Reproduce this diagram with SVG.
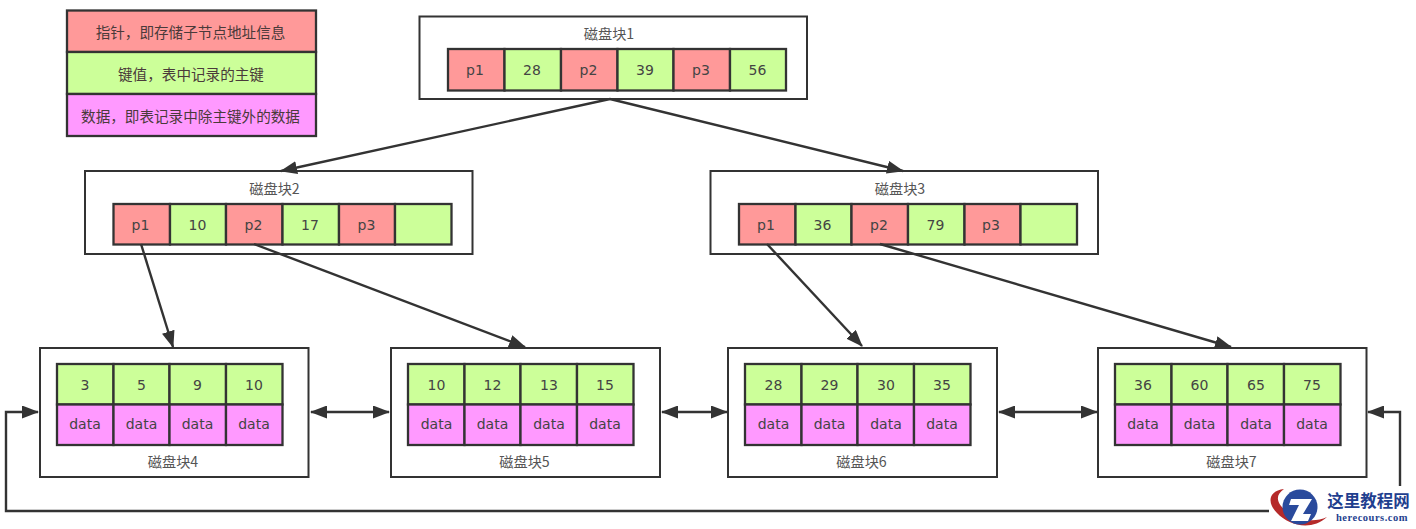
<svg xmlns="http://www.w3.org/2000/svg" width="1416" height="529" viewBox="0 0 1416 529">
<style>
text{font-family:"Noto Sans CJK SC","DejaVu Sans",sans-serif;text-anchor:middle;dominant-baseline:central}
.blk{fill:#fff;stroke:#333;stroke-width:2}
.r{fill:#ff9999;stroke:#333;stroke-width:2.300}
.g{fill:#ccff99;stroke:#333;stroke-width:2.300}
.m{fill:#ff99ff;stroke:#333;stroke-width:2.300}
.t{font-size:14px;fill:#444;font-family:"DejaVu Sans","Noto Sans CJK SC",sans-serif}
.l{font-size:14.200px;fill:#555}
.k{font-size:14.600px;fill:#4a3a3a}
.c{fill:none;stroke:#333;stroke-width:2.400}
</style>
<defs>
<marker id="a" viewBox="0 0 17 13" refX="16" refY="6.500" markerWidth="17" markerHeight="13" markerUnits="userSpaceOnUse" orient="auto-start-reverse"><path d="M0 0L17 6.500L0 13z" fill="#333"/></marker>
</defs>
<g id="legend">
<rect class="r" x="67" y="10.500" width="249" height="41.500"/><text class="k" x="190.500" y="31.500">指针，即存储子节点地址信息</text>
<rect class="g" x="67" y="52" width="249" height="42"/><text class="k" x="191" y="73.500">键值，表中记录的主键</text>
<rect class="m" x="67" y="94" width="249" height="42"/><text class="k" x="190.500" y="115">数据，即表记录中除主键外的数据</text>
</g>
<g id="block1">
<rect class="blk" x="419.500" y="16.500" width="387.500" height="82.500"/><text class="l" x="609" y="32.500">磁盘块1</text>
<rect class="r" x="448" y="49" width="56.500" height="41.500"/><text class="t" x="475" y="70">p1</text>
<rect class="g" x="504.500" y="49" width="56.500" height="41.500"/><text class="t" x="532" y="70">28</text>
<rect class="r" x="561" y="49" width="56.500" height="41.500"/><text class="t" x="588.500" y="70">p2</text>
<rect class="g" x="617.500" y="49" width="56" height="41.500"/><text class="t" x="645" y="70">39</text>
<rect class="r" x="673.500" y="49" width="56.500" height="41.500"/><text class="t" x="701" y="70">p3</text>
<rect class="g" x="730" y="49" width="56" height="41.500"/><text class="t" x="757.500" y="70">56</text>
</g>
<g id="block2">
<rect class="blk" x="85" y="171" width="387.500" height="83"/><text class="l" x="274.500" y="187.500">磁盘块2</text>
<rect class="r" x="113.500" y="204" width="56.500" height="40.500"/><text class="t" x="140.500" y="225">p1</text>
<rect class="g" x="170" y="204" width="56" height="40.500"/><text class="t" x="197.500" y="225">10</text>
<rect class="r" x="226" y="204" width="56.500" height="40.500"/><text class="t" x="253.500" y="225">p2</text>
<rect class="g" x="282.500" y="204" width="56.500" height="40.500"/><text class="t" x="310" y="225">17</text>
<rect class="r" x="339" y="204" width="56" height="40.500"/><text class="t" x="366.500" y="225">p3</text>
<rect class="g" x="395" y="204" width="56.500" height="40.500"/>
</g>
<g id="block3">
<rect class="blk" x="710.500" y="171" width="387.500" height="83"/><text class="l" x="900" y="187.500">磁盘块3</text>
<rect class="r" x="739" y="204" width="56.500" height="40.500"/><text class="t" x="766" y="225">p1</text>
<rect class="g" x="795.500" y="204" width="56" height="40.500"/><text class="t" x="822.500" y="225">36</text>
<rect class="r" x="851.500" y="204" width="56.500" height="40.500"/><text class="t" x="879" y="225">p2</text>
<rect class="g" x="908" y="204" width="56.500" height="40.500"/><text class="t" x="935.500" y="225">79</text>
<rect class="r" x="964.500" y="204" width="56" height="40.500"/><text class="t" x="991" y="225">p3</text>
<rect class="g" x="1020.500" y="204" width="56.500" height="40.500"/>
</g>
<g id="block4">
<rect class="blk" x="40" y="348" width="268.500" height="129"/>
<rect class="g" x="57" y="364" width="56.500" height="40.500"/><text class="t" x="85" y="384.500">3</text>
<rect class="g" x="113.500" y="364" width="56" height="40.500"/><text class="t" x="141.500" y="384.500">5</text>
<rect class="g" x="169.500" y="364" width="56.500" height="40.500"/><text class="t" x="197.500" y="384.500">9</text>
<rect class="g" x="226" y="364" width="56.500" height="40.500"/><text class="t" x="254" y="384.500">10</text>
<rect class="m" x="57" y="404.500" width="56.500" height="40.500"/><text class="t" x="85" y="424">data</text>
<rect class="m" x="113.500" y="404.500" width="56" height="40.500"/><text class="t" x="141.500" y="424">data</text>
<rect class="m" x="169.500" y="404.500" width="56.500" height="40.500"/><text class="t" x="197.500" y="424">data</text>
<rect class="m" x="226" y="404.500" width="56.500" height="40.500"/><text class="t" x="254" y="424">data</text>
<text class="l" x="173" y="460.500">磁盘块4</text>
</g>
<g id="block5">
<rect class="blk" x="391" y="348" width="269" height="129"/>
<rect class="g" x="408" y="364" width="56.500" height="40.500"/><text class="t" x="436.500" y="384.500">10</text>
<rect class="g" x="464.500" y="364" width="56" height="40.500"/><text class="t" x="492.500" y="384.500">12</text>
<rect class="g" x="520.500" y="364" width="56.500" height="40.500"/><text class="t" x="549" y="384.500">13</text>
<rect class="g" x="577" y="364" width="56.500" height="40.500"/><text class="t" x="605" y="384.500">15</text>
<rect class="m" x="408" y="404.500" width="56.500" height="40.500"/><text class="t" x="436.500" y="424">data</text>
<rect class="m" x="464.500" y="404.500" width="56" height="40.500"/><text class="t" x="492.500" y="424">data</text>
<rect class="m" x="520.500" y="404.500" width="56.500" height="40.500"/><text class="t" x="549" y="424">data</text>
<rect class="m" x="577" y="404.500" width="56.500" height="40.500"/><text class="t" x="605" y="424">data</text>
<text class="l" x="524.500" y="460.500">磁盘块5</text>
</g>
<g id="block6">
<rect class="blk" x="728" y="348" width="269" height="129"/>
<rect class="g" x="745" y="364" width="56.500" height="40.500"/><text class="t" x="773.500" y="384.500">28</text>
<rect class="g" x="801.500" y="364" width="56" height="40.500"/><text class="t" x="829.500" y="384.500">29</text>
<rect class="g" x="857.500" y="364" width="56.500" height="40.500"/><text class="t" x="886" y="384.500">30</text>
<rect class="g" x="914" y="364" width="56.500" height="40.500"/><text class="t" x="942" y="384.500">35</text>
<rect class="m" x="745" y="404.500" width="56.500" height="40.500"/><text class="t" x="773.500" y="424">data</text>
<rect class="m" x="801.500" y="404.500" width="56" height="40.500"/><text class="t" x="829.500" y="424">data</text>
<rect class="m" x="857.500" y="404.500" width="56.500" height="40.500"/><text class="t" x="886" y="424">data</text>
<rect class="m" x="914" y="404.500" width="56.500" height="40.500"/><text class="t" x="942" y="424">data</text>
<text class="l" x="861.500" y="460.500">磁盘块6</text>
</g>
<g id="block7">
<rect class="blk" x="1098" y="348" width="268.500" height="129"/>
<rect class="g" x="1115" y="364" width="56.500" height="40.500"/><text class="t" x="1143" y="384.500">36</text>
<rect class="g" x="1171.500" y="364" width="56" height="40.500"/><text class="t" x="1199.500" y="384.500">60</text>
<rect class="g" x="1227.500" y="364" width="56.500" height="40.500"/><text class="t" x="1256" y="384.500">65</text>
<rect class="g" x="1284" y="364" width="56.500" height="40.500"/><text class="t" x="1312" y="384.500">75</text>
<rect class="m" x="1115" y="404.500" width="56.500" height="40.500"/><text class="t" x="1143" y="424">data</text>
<rect class="m" x="1171.500" y="404.500" width="56" height="40.500"/><text class="t" x="1199.500" y="424">data</text>
<rect class="m" x="1227.500" y="404.500" width="56.500" height="40.500"/><text class="t" x="1256" y="424">data</text>
<rect class="m" x="1284" y="404.500" width="56.500" height="40.500"/><text class="t" x="1312" y="424">data</text>
<text class="l" x="1231.500" y="460.500">磁盘块7</text>
</g>
<g id="connectors">
<path class="c" marker-end="url(#a)" d="M610 99L281 171"/>
<path class="c" marker-end="url(#a)" d="M610 99L903 171"/>
<path class="c" marker-end="url(#a)" d="M141 244L173 347"/>
<path class="c" marker-end="url(#a)" d="M254 244L525 347"/>
<path class="c" marker-end="url(#a)" d="M767 244L862 346"/>
<path class="c" marker-end="url(#a)" d="M880 244L1231 347"/>
<path class="c" marker-start="url(#a)" marker-end="url(#a)" d="M311 412H389"/>
<path class="c" marker-start="url(#a)" marker-end="url(#a)" d="M662 412H727"/>
<path class="c" marker-start="url(#a)" marker-end="url(#a)" d="M999 412H1097"/>
<path class="c" marker-end="url(#a)" d="M1269 511H6V412H38"/>
<path class="c" marker-end="url(#a)" d="M1400 486V412H1368"/>
</g>
<g id="logo">
<path d="M1284 489C1268 491 1267 503 1277 513C1289 526 1312 531 1327 517C1310 525 1290 517 1281 506C1276 499 1277 494 1284 489z" fill="#b52a2a"/>
<circle cx="1300" cy="507" r="17.500" fill="#2a4a9c"/>
<path d="M1291 499H1312L1303 514H1311L1308 521H1291L1299 505H1289z" fill="#fff"/>
<text x="1368.500" y="499.500" style="font-size:16.500px;font-weight:700;fill:#1f3f8f">这里教程网</text>
<text x="1372" y="517" style="font-family:'Liberation Serif',serif;font-size:10.500px;font-weight:700;fill:#1f3f8f;letter-spacing:.5px">herecours.com</text>
</g>
</svg>
